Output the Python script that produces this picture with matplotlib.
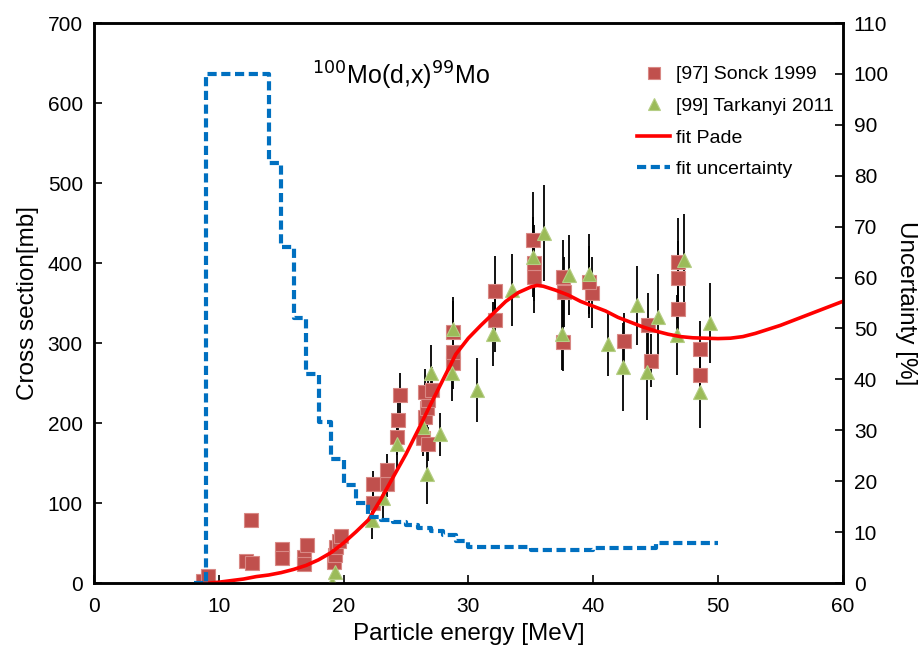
import matplotlib
matplotlib.use("Agg")
import matplotlib.pyplot as plt
import numpy as np

plt.rcParams["font.family"] = ["Liberation Sans", "DejaVu Sans"]

# [97] Sonck 1999
sonck_e = [8.7, 9.1, 12.2, 12.7, 12.6, 15.1, 15.1, 16.8, 16.8, 17.1, 19.2, 19.3, 19.4,
           19.6, 19.8, 22.4, 22.4, 23.5, 23.5, 24.3, 24.4, 24.5, 26.4, 26.8, 26.5, 26.7,
           26.8, 26.5, 27.1, 28.8, 28.8, 28.8, 32.1, 32.1, 35.3, 35.3, 35.2, 37.6, 37.7,
           37.6, 39.9, 39.7, 42.5, 44.4, 44.6, 46.8, 46.8, 46.8, 48.6, 48.6]
sonck_xs = [2, 9, 27, 25, 79, 43, 31, 33, 24, 48, 26, 35, 45,
            52, 59, 100, 124, 124, 141, 182, 204, 235, 181, 174, 208, 219,
            229, 239, 241, 275, 289, 314, 329, 365, 383, 400, 429, 301, 364,
            383, 363, 376, 302, 323, 278, 342, 381, 401, 260, 293]
sonck_err = [0, 0, 0, 0, 9, 0, 0, 0, 0, 0, 0, 0, 0,
             0, 0, 15, 16, 17, 20, 22, 24, 28, 22, 21, 25, 26,
             27, 28, 29, 33, 35, 38, 40, 44, 46, 48, 60, 36, 44,
             46, 44, 45, 36, 39, 33, 41, 46, 55, 31, 35]

# [99] Tarkanyi 2011
tark_e = [19.1, 19.3, 22.3, 23.2, 24.3, 26.4, 26.7, 27.0, 27.7, 28.7, 28.8, 30.7, 32.0,
          33.5, 35.2, 36.1, 37.5, 38.1, 39.7, 41.2, 42.4, 43.5, 44.3, 45.2, 46.7, 47.3,
          48.6, 49.4]
tark_xs = [0, 14, 79, 106, 174, 195, 136, 262, 186, 262, 317, 241, 311,
           366, 408, 438, 311, 385, 386, 299, 270, 347, 264, 333, 310, 404,
           239, 325]
tark_err = [0, 0, 24, 25, 30, 30, 37, 35, 27, 35, 40, 40, 40,
            45, 50, 60, 45, 50, 50, 40, 55, 49, 60, 53, 50, 57,
            45, 50]

# Pade fit
fit_e = [9.3, 10, 11, 12, 13, 14, 15, 16, 17, 18, 19, 20, 21, 22, 23, 24, 25, 26, 27,
         28, 29, 29.7, 30, 31, 32, 33, 34, 35, 35.5, 36, 37, 38, 39, 40, 41, 42, 43,
         44, 45, 46, 47, 48, 49, 50, 51, 52, 53, 54, 55, 56, 57, 58, 59, 60]
fit_xs = [0, 1, 3, 5, 8, 10, 13, 17, 22, 29, 38, 50, 64, 79, 105, 133, 161, 192, 224,
          255, 286, 300, 306, 322, 337, 352, 363, 370, 372, 371, 366, 360, 352, 346, 340,
          332, 326, 320, 315, 311, 308, 306.5, 306, 305.5, 306, 308, 312, 317, 322, 328,
          334, 340, 346, 352]

# fit uncertainty (steps)
unc_e = [8, 9, 14, 15, 16, 17, 18, 19, 20, 21, 22, 23, 24, 25, 26, 27, 28, 29, 30,
         35, 40, 45, 50]
unc_pct = [0, 100, 82.5, 66, 52, 41, 31.6, 24.4, 19.3, 15.7, 13, 12.4, 12, 11.3,
           10.8, 10.2, 9.4, 8.3, 7.1, 6.4, 6.8, 7.9, 7.9]

fig = plt.figure(figsize=(9.21, 6.48), dpi=100)
ax = fig.add_axes([0.102, 0.1003, 0.813, 0.8642])
ax2 = ax.twinx()

ax.errorbar(sonck_e, sonck_xs, yerr=sonck_err, fmt="none", ecolor="black",
            elinewidth=1.3, capsize=0, zorder=2)
ax.errorbar(tark_e, tark_xs, yerr=tark_err, fmt="none", ecolor="black",
            elinewidth=1.3, capsize=0, zorder=2)
h1, = ax.plot(sonck_e, sonck_xs, "s", color="#C0504D", mec="#D98985", mew=0.8,
              ms=9.5, ls="none", label="[97] Sonck 1999", zorder=3)
h2, = ax.plot(tark_e, tark_xs, "^", color="#9BBB59", mec="#B5CE85", mew=0.8,
              ms=9.5, ls="none", label="[99] Tarkanyi 2011", zorder=3)
h3, = ax.plot(fit_e, fit_xs, "-", color="#FF0000", lw=2.6, label="fit Pade", zorder=4)
h4, = ax2.plot(unc_e, unc_pct, drawstyle="steps-post", color="#0070C0", lw=3,
               ls=(0, (2.2, 1.1)), label="fit uncertainty")

ax.set_xlim(0, 60)
ax.set_ylim(0, 700)
ax2.set_ylim(0, 110)
ax.set_xticks(np.arange(0, 61, 10))
ax.set_yticks(np.arange(0, 701, 100))
ax2.set_yticks(np.arange(0, 111, 10))

for a in (ax, ax2):
    for s in a.spines.values():
        s.set_linewidth(1.8)
    a.tick_params(direction="in", length=6, width=1.2, labelsize=15)
ax.tick_params(axis="x", pad=10)
ax.tick_params(axis="y", pad=8)
ax2.tick_params(axis="y", pad=8)

ax.set_xlabel("Particle energy [MeV]", fontsize=17.5, labelpad=5)
ax.set_ylabel("Cross section[mb]", fontsize=17.5, labelpad=6)
ax2.set_ylabel("Uncertainty [%]", fontsize=17.5, rotation=270, labelpad=20)

ax.text(0.41, 0.905, r"$^{100}$Mo(d,x)$^{99}$Mo", transform=ax.transAxes,
        fontsize=18, ha="center", va="center")

ax2.legend(handles=[h1, h2, h3, h4], loc="upper right", bbox_to_anchor=(1.012, 0.955),
           frameon=False, fontsize=14, handlelength=1.7, handletextpad=0.3,
           labelspacing=0.72, numpoints=1, markerscale=0.85)

fig.savefig("out.png", dpi=100)
